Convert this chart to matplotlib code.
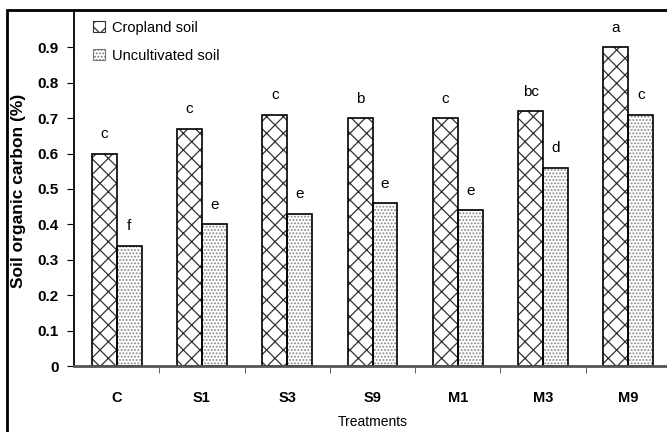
import numpy as np
import matplotlib.pyplot as plt
from matplotlib.patches import Rectangle

treatments = ['C', 'S1', 'S3', 'S9', 'M1', 'M3', 'M9']
cropland = [0.60, 0.67, 0.71, 0.70, 0.70, 0.72, 0.90]
uncultivated = [0.34, 0.40, 0.43, 0.46, 0.44, 0.56, 0.71]
crop_letters = ['c', 'c', 'c', 'b', 'c', 'bc', 'a']
uncult_letters = ['f', 'e', 'e', 'e', 'e', 'd', 'c']
yticks = [0, 0.1, 0.2, 0.3, 0.4, 0.5, 0.6, 0.7, 0.8, 0.9]

plt.rcParams['font.family'] = ['Liberation Sans', 'DejaVu Sans']
plt.rcParams['hatch.linewidth'] = 0.9

W, H = 667, 432
fig = plt.figure(figsize=(W/100, H/100), dpi=100)
ax = fig.add_axes([74/W, (H-366)/H, (671-74)/W, (366-12)/H])

x = np.arange(len(treatments))
w = 0.293

# hatched fills first, outlines on top
ax.bar(x - w/2, cropland, w, color='white', edgecolor='#333333', hatch='xx', lw=0)
ax.bar(x + w/2, uncultivated, w, color='white', edgecolor='#888888', hatch='.....', lw=0)
ax.bar(x - w/2, cropland, w, fill=False, edgecolor='black', lw=1.2)
ax.bar(x + w/2, uncultivated, w, fill=False, edgecolor='black', lw=1.2)

for i in range(len(x)):
    ax.text(x[i] - w/2, cropland[i] + 0.035, crop_letters[i], ha='center', va='bottom', fontsize=11)
    ax.text(x[i] + w/2, uncultivated[i] + 0.035, uncult_letters[i], ha='center', va='bottom', fontsize=11)

ax.set_xlim(-0.5, 6.5)
ax.set_ylim(0, 1.0)
ax.set_yticks(yticks)
ax.set_yticklabels(['0'] + ['%.1f' % v for v in yticks[1:]], fontweight='bold', fontsize=11)
ax.set_xticks(x)
ax.set_xticklabels(treatments, fontweight='bold', fontsize=10.5)
ax.set_xticks(np.arange(0.5, 6.5, 1), minor=True)
ax.tick_params(axis='x', which='major', length=0, pad=18)
ax.tick_params(axis='x', which='minor', length=5, direction='out', color='#444444')
ax.tick_params(axis='y', length=5, direction='out', pad=6)

for s in ['top', 'right']:
    ax.spines[s].set_visible(False)
ax.spines['left'].set_linewidth(1.3)
ax.spines['bottom'].set_linewidth(2)
ax.spines['bottom'].set_color('#555555')

ax.set_xlabel('Treatments', fontsize=10, labelpad=7)
fig.text(19/W, (H-191)/H, 'Soil organic carbon (%)', rotation=90, ha='center', va='center',
         fontweight='bold', fontsize=12.5)

# legend
h1 = Rectangle((0, 0), 1, 1, facecolor='white', edgecolor='#333333', hatch='xx', lw=0.8)
h2 = Rectangle((0, 0), 1, 1, facecolor='white', edgecolor='#777777', hatch='.....', lw=0.8)
ax.legend([h1, h2], ['Cropland soil', 'Uncultivated soil'], loc='upper left',
          bbox_to_anchor=(0.01, 1.012), frameon=False, fontsize=10.5,
          handlelength=0.8, handleheight=0.75, handletextpad=0.5, labelspacing=0.95)

# figure frame
fig.patches.append(Rectangle((7/W, -0.1), 1.2, (H-10)/H + 0.1, transform=fig.transFigure,
                             fill=False, edgecolor='black', lw=2))

fig.savefig('out.png', dpi=100)
